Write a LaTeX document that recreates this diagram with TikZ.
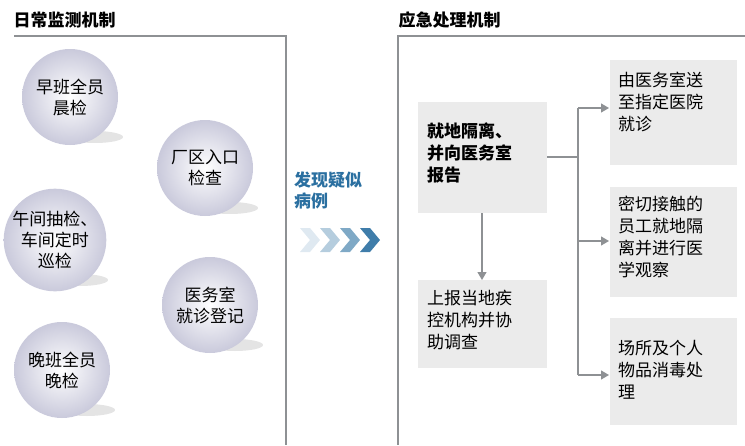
\documentclass[tikz,border=0pt]{standalone}
\usepackage{fontspec}
\setmainfont{Noto Sans CJK SC}
\usetikzlibrary{shadings,arrows.meta}

\definecolor{linegray}{HTML}{8E9194}
\definecolor{boxgray}{HTML}{EBEBEB}
\definecolor{titleblue}{HTML}{2A6FA0}

\tikzset{
  ball/.style={circle,minimum size=96pt,inner sep=0pt,align=center,
    inner color=white,outer color=blue!20!gray!35,font=\fontsize{17}{21}\selectfont},
  ballshadow/.style={fill=gray!35,opacity=0.6},
  grbox/.style={align=left,anchor=north west,inner sep=0pt,
    font=\fontsize{17}{22}\selectfont},
  link/.style={draw=linegray,line width=1.2pt},
  arrowline/.style={link,-{Triangle[length=8pt,width=9pt]}},
  head/.style={font=\bfseries\fontsize{17}{20}\selectfont,anchor=west}
}

\begin{document}
\begin{tikzpicture}[x=1pt,y=-1pt]
\useasboundingbox (0,0) rectangle (745,445);

% headings and frames
\node [head] (leftT) at (10,20) {日常监测机制};
\node [head] (rightT) at (395,20) {应急处理机制};
\draw [linegray,line width=2pt] (14,36) -- (286,36) -- (286,445);
\draw [linegray,line width=2pt] (745,36) -- (398,36) -- (398,445);

% balls
\foreach \x/\y in {70/97,205/168,55/240,210/305,62/370}
  \fill [ballshadow] (\x+25,\y+40) ellipse (28 and 6);
\node [ball] (morning) at (70,97) {早班全员\\晨检};
\node [ball] (gate) at (205,168) {厂区入口\\检查};
\node [ball] (noon) at (55,240) {午间抽检、\\车间定时\\巡检};
\node [ball] (clinic) at (210,305) {医务室\\就诊登记};
\node [ball] (evening) at (62,370) {晚班全员\\晚检};

% middle label and chevrons
\node [font=\bfseries\itshape\fontsize{17}{21}\selectfont,text=titleblue,align=left]
  (found) at (328,190) {发现疑似\\病例};
\foreach \i/\c in {0/15,1/35,2/60,3/90}
  \fill [titleblue!\c] (300+20*\i,228) -- ++(10,0) -- ++(10,12) -- ++(-10,12)
    -- ++(-10,0) -- ++(10,-12) -- cycle;

% boxes
\fill [boxgray] (418,102) rectangle (547,213);
\node [grbox,font=\bfseries\fontsize{17}{22}\selectfont] (isolate) at (427,123)
  {就地隔离、\\并向医务室\\报告};
\coordinate (isoR) at (547,157);
\coordinate (isoB) at (482,213);
\fill [boxgray] (418,280) rectangle (547,368);
\node [grbox] (report) at (427,290) {上报当地疾\\控机构并协\\助调查};
\coordinate (repT) at (482,280);
\fill [boxgray] (610,60) rectangle (737,165);
\node [grbox] (hosp) at (618,72) {由医务室送\\至指定医院\\就诊};
\fill [boxgray] (610,187) rectangle (737,297);
\node [grbox] (contact) at (618,196) {密切接触的\\员工就地隔\\离并进行医\\学观察};
\fill [boxgray] (610,318) rectangle (737,425);
\node [grbox] (disinf) at (618,340) {场所及个人\\物品消毒处\\理};

% connectors
\coordinate (fork) at (578,157);
\draw [link] (isoR) -- (fork);
\draw [link] (578,108) -- (578,375);
\draw [arrowline] (578,108) -- (609,108);
\draw [arrowline] (578,241) -- (609,241);
\draw [arrowline] (578,375) -- (609,375);
\draw [arrowline] (isoB) -- (repT);

\end{tikzpicture}
\end{document}
